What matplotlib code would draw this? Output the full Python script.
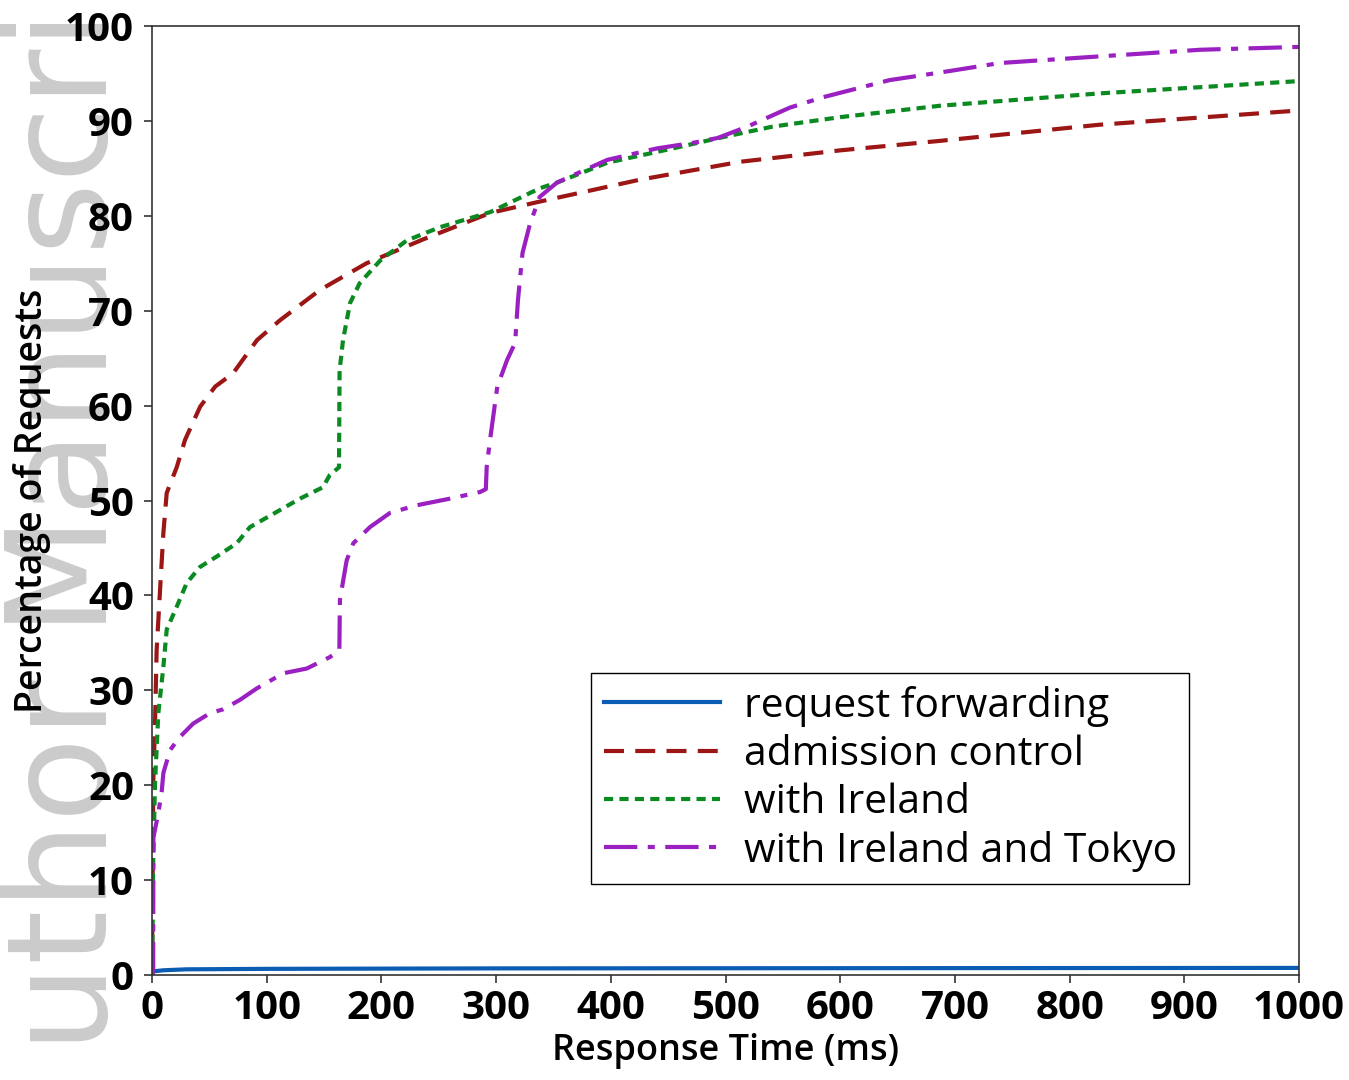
import matplotlib
matplotlib.use("Agg")
import matplotlib.pyplot as plt
from matplotlib.transforms import Bbox, TransformedBbox

# response time (ms) vs. cumulative percentage of requests
fwd_x = [0, 2, 10, 30, 100, 300, 1000]
fwd_y = [0.2, 0.4, 0.5, 0.6, 0.65, 0.7, 0.75]

adm_x = [0, 0.5, 1, 2.6, 4, 7, 9.9, 12.8, 21.5, 28.8, 42, 55, 70.6, 91.5, 111.6,
         146.5, 187, 236, 294.7, 338, 425, 513, 600, 687, 826, 1000]
adm_y = [0, 10, 20, 26.5, 34.2, 40.6, 46.6, 50.8, 53.5, 56.4, 59.9, 62, 63.4, 66.9, 69,
         72.2, 75, 77.5, 80.3, 81.5, 83.8, 85.7, 86.9, 87.9, 89.6, 91.1]

irl_x = [0, 0.5, 1, 2.6, 5.5, 9.9, 12.8, 21.5, 30.2, 41.8, 56.4, 73.8, 85.4, 108.7,
         129, 149, 155, 163, 163.5, 166.5, 172.6, 181, 199, 222, 251, 295, 338, 353,
         397, 454, 498, 541, 600, 687, 826, 1000]
irl_y = [0, 5, 12, 20.2, 27.6, 32.5, 36.4, 38.8, 41.3, 43, 44.1, 45.5, 47.2, 48.8,
         50.2, 51.4, 52.7, 53.5, 63.7, 66.9, 70.8, 72.9, 75.3, 77.4, 78.8, 80.4, 82.9, 83.5,
         85.6, 87.1, 88.3, 89.4, 90.4, 91.6, 92.9, 94.2]

tok_x = [0, 1, 1.2, 5.4, 8.4, 9.9, 15.7, 24.4, 35.9, 50.6, 62, 76.7, 91.3, 114.5,
         135, 155, 163.3, 163.8, 166.7, 169.7, 175.5, 190, 207.5, 230.8, 259.8, 286,
         291, 291.8, 294.7, 301, 309.5, 316.5, 319, 323, 329.6, 338, 353, 373, 397,
         440, 472, 493, 519, 556, 585, 643, 687, 739, 826, 914, 1000]
tok_y = [0, 0.5, 14.5, 17, 19.3, 21.3, 23.7, 25.1, 26.5, 27.6, 28, 29, 30.2, 31.8,
         32.3, 33.5, 34.2, 39.5, 41.6, 43.7, 45.5, 47.2, 48.7, 49.5, 50.2, 50.9,
         51.2, 53.6, 56.4, 62, 64.8, 66.6, 71.1, 76.1, 79.2, 82, 83.5, 84.6, 85.9,
         87.1, 87.7, 88.2, 89.4, 91.4, 92.5, 94.3, 95.1, 96.1, 96.8, 97.5, 97.8]

labels = ["request forwarding", "admission control", "with Ireland", "with Ireland and Tokyo"]
x_ticks = list(range(0, 1001, 100))
y_ticks = list(range(0, 101, 10))

fig = plt.figure(figsize=(13.49, 10.8), dpi=100)

# faint watermark down the left edge, kept behind everything else
wm = fig.text(0.079, -0.062, "Author Manuscript", rotation=90, rotation_mode="anchor",
              ha="left", va="baseline", fontsize=100, family="DejaVu Sans",
              color="#cbcbcb", zorder=-5)
# the reference crops off the leading "A"
wm.set_clip_box(TransformedBbox(Bbox([[0, 0.025], [1, 1]]), fig.transFigure))
wm.set_clip_on(True)

ax = fig.add_axes([0.1127, 0.0972, 0.8503, 0.8787])
ax.patch.set_alpha(0)

lw = 3
ax.plot(fwd_x, fwd_y, color="#0b5cb3", lw=lw, label=labels[0])
ax.plot(adm_x, adm_y, color="#9c1616", lw=lw, dashes=(4.8, 2.7), label=labels[1])
ax.plot(irl_x, irl_y, color="#0b8a22", lw=lw, dashes=(2.2, 1.5), label=labels[2])
ax.plot(tok_x, tok_y, color="#9b20c2", lw=lw, dashes=(8, 2.5, 1.7, 2.5), label=labels[3])

ax.set_xlim(0, 1000)
ax.set_ylim(0, 100)
ax.set_xticks(x_ticks)
ax.set_yticks(y_ticks)

tick_font = dict(family="Open Sans", weight="bold", size=29)
ax.set_xticklabels([str(t) for t in x_ticks], fontdict=tick_font)
ax.set_yticklabels([str(t) for t in y_ticks], fontdict=tick_font)
ax.tick_params(axis="both", direction="out", length=6, width=1.2, color="#333333")
ax.tick_params(axis="x", pad=4)
ax.tick_params(axis="y", pad=7)

for s in ax.spines.values():
    s.set_linewidth(1.2)
    s.set_color("#333333")

ax.set_xlabel("Response Time (ms)", family="Open Sans", weight="semibold",
              fontsize=26, labelpad=4)
ax.set_ylabel("Percentage of Requests", family="Open Sans", weight="semibold",
              fontsize=27, labelpad=10)

leg = ax.legend(loc="lower left", bbox_to_anchor=(0.383, 0.096), borderaxespad=0,
                prop=dict(family="Open Sans", size=29.3), handlelength=2.85,
                handletextpad=0.6, labelspacing=0.19, fancybox=False,
                edgecolor="black", framealpha=1, borderpad=0.3)
leg.get_frame().set_linewidth(1.0)

fig.savefig("out.png", dpi=100)
